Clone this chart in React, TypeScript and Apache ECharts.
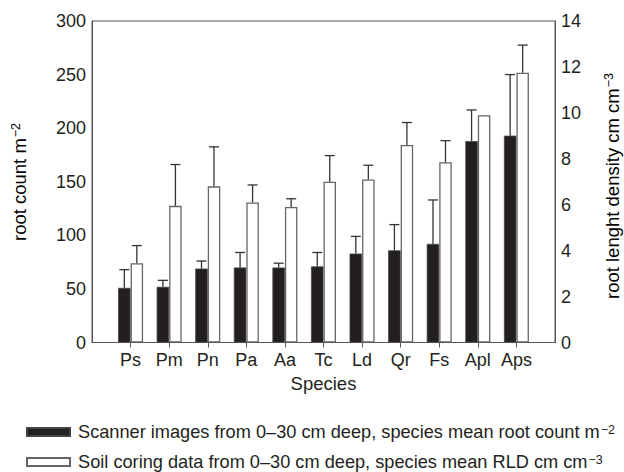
import React, { useEffect, useRef } from 'react';
import * as echarts from 'echarts';

const species = ['Ps', 'Pm', 'Pn', 'Pa', 'Aa', 'Tc', 'Ld', 'Qr', 'Fs', 'Apl', 'Aps'];
const rootCount = [51, 52, 69, 70, 70, 71, 83, 86, 92, 188, 193];
const rootCountErr = [17, 6, 7, 14, 4, 13, 16, 24, 41, 29, 57];
const rld = [3.45, 5.95, 6.8, 6.1, 5.9, 7.0, 7.1, 8.6, 7.85, 9.9, 11.75];
const rldErr: (number | null)[] = [0.77, 1.8, 1.72, 0.76, 0.36, 1.14, 0.62, 0.98, 0.94, null, 1.2];

const leftAxis = { min: 0, max: 300, interval: 50 };
const rightAxis = { min: 0, max: 14, interval: 2 };

const scannerName = 'Scanner images from 0–30 cm deep, species mean root count m';
const coringName = 'Soil coring data from 0–30 cm deep, species mean RLD cm cm';
const supOf: Record<string, string> = { [scannerName]: '−2', [coringName]: '−3' };

const FONT = '"Liberation Sans", Arial, Helvetica, sans-serif';
const TEXT = '#231f20';
const AXIS = '#555555';
const BAR_W = 12.5;
const TICK_FS = 18;
const TITLE_FS = 18.5;
const LEGEND_FS = 18.2;

// padded category list so that the plot frame extends half a step beyond first/last species
const xCats = [' ', ...species, '  '];

function errorRenderer(offset: number) {
  return (params: any, api: any) => {
    const idx = api.value(0);
    const mean = api.value(1);
    const err = api.value(2);
    if (err == null || isNaN(err)) return null;
    const base = api.coord([idx, mean]);
    const top = api.coord([idx, mean + err]);
    const x = base[0] + offset;
    const style = { stroke: '#333333', lineWidth: 1.3 };
    return {
      type: 'group',
      children: [
        { type: 'line', shape: { x1: x, y1: base[1], x2: x, y2: top[1] }, style },
        { type: 'line', shape: { x1: x - 5, y1: top[1], x2: x + 5, y2: top[1] }, style },
      ],
    };
  };
}

export default function App() {
  const ref = useRef<HTMLDivElement>(null);
  useEffect(() => {
    if (!ref.current) return;
    const chart = echarts.init(ref.current, undefined, { renderer: 'svg' });
    const supRich = {
      sup: { fontSize: 12.5, verticalAlign: 'top', fontFamily: FONT, color: TEXT, padding: [0, 0, 0, 1] },
      t: { fontSize: TITLE_FS, fontFamily: FONT, color: TEXT },
    };
    const legendRich = {
      sup: { fontSize: 12.5, verticalAlign: 'top', fontFamily: FONT, color: TEXT, padding: [0, 0, 0, 1] },
      t: { fontSize: LEGEND_FS, fontFamily: FONT, color: TEXT },
    };
    const legendBase = {
      orient: 'vertical',
      left: 26,
      padding: 0,
      icon: 'rect',
      itemWidth: 43,
      itemHeight: 8,
      selectedMode: false,
      formatter: (n: string) => `{t|${n}}{sup|${supOf[n]}}`,
      textStyle: { fontSize: LEGEND_FS, color: TEXT, fontFamily: FONT, rich: legendRich, padding: [0, 0, 0, 3] },
    };
    const option: any = {
      animation: false,
      backgroundColor: '#ffffff',
      textStyle: { fontFamily: FONT, color: TEXT },
      grid: {
        left: 92,
        right: 69,
        top: 21,
        bottom: 129.5,
        show: true,
        borderColor: AXIS,
        borderWidth: 1,
        backgroundColor: 'transparent',
        outerBoundsMode: 'none',
      },
      xAxis: {
        type: 'category',
        data: xCats,
        boundaryGap: false,
        axisLine: { lineStyle: { color: AXIS, width: 1 } },
        axisTick: {
          show: true,
          length: 5,
          lineStyle: { color: AXIS, width: 1 },
          interval: (i: number) => i > 0 && i < xCats.length - 1,
        },
        axisLabel: { interval: 0, fontSize: TICK_FS, color: TEXT, fontFamily: FONT, margin: 8 },
        splitLine: { show: false },
        name: 'Species',
        nameLocation: 'middle',
        nameGap: 31,
        nameTextStyle: { fontSize: TITLE_FS, color: TEXT, fontFamily: FONT },
      },
      yAxis: [
        {
          type: 'value',
          position: 'left',
          ...leftAxis,
          axisLine: { show: true, lineStyle: { color: AXIS, width: 1 } },
          axisTick: { show: false },
          splitLine: { show: false },
          axisLabel: { fontSize: TICK_FS, color: TEXT, fontFamily: FONT, margin: 6 },
        },
        {
          type: 'value',
          position: 'right',
          ...rightAxis,
          axisLine: { show: true, lineStyle: { color: AXIS, width: 1 } },
          axisTick: { show: false },
          splitLine: { show: false },
          axisLabel: { fontSize: TICK_FS, color: TEXT, fontFamily: FONT, margin: 6 },
        },
      ],
      legend: [
        { ...legendBase, top: 423, data: [scannerName] },
        { ...legendBase, top: 453, data: [coringName] },
      ],
      graphic: [
        {
          type: 'text',
          x: 19,
          y: 182,
          rotation: Math.PI / 2,
          style: {
            text: '{t|root count m}{sup|−2}',
            align: 'center',
            verticalAlign: 'middle',
            rich: supRich,
          },
        },
        {
          type: 'text',
          x: 612,
          y: 186,
          rotation: Math.PI / 2,
          style: {
            text: '{t|root lenght density cm cm}{sup|−3}',
            align: 'center',
            verticalAlign: 'middle',
            rich: supRich,
          },
        },
      ],
      series: [
        {
          name: scannerName,
          type: 'bar',
          xAxisIndex: 0,
          yAxisIndex: 0,
          barWidth: BAR_W,
          barGap: '0%',
          data: rootCount.map((v, i) => [i + 1, v]),
          itemStyle: { color: '#231f20', borderColor: '#444444', borderWidth: 0.8 },
        },
        {
          name: coringName,
          type: 'bar',
          xAxisIndex: 0,
          yAxisIndex: 1,
          barWidth: BAR_W,
          barGap: '0%',
          data: rld.map((v, i) => [i + 1, v]),
          itemStyle: { color: '#ffffff', borderColor: '#666666', borderWidth: 1.3 },
        },
        {
          name: 'rootCountError',
          type: 'custom',
          xAxisIndex: 0,
          yAxisIndex: 0,
          renderItem: errorRenderer(-BAR_W / 2),
          data: rootCount.map((v, i) => [i + 1, v, rootCountErr[i]]),
          z: 3,
          silent: true,
        },
        {
          name: 'rldError',
          type: 'custom',
          xAxisIndex: 0,
          yAxisIndex: 1,
          renderItem: errorRenderer(BAR_W / 2),
          data: rld
            .map((v, i) => [i + 1, v, rldErr[i]])
            .filter((d) => d[2] != null),
          z: 3,
          silent: true,
        },
      ],
    };
    chart.setOption(option);
    return () => chart.dispose();
  }, []);
  return (
    <div
      ref={ref}
      style={{ position: 'fixed', left: 0, top: 0, width: 624, height: 472, background: '#fff' }}
    />
  );
}
